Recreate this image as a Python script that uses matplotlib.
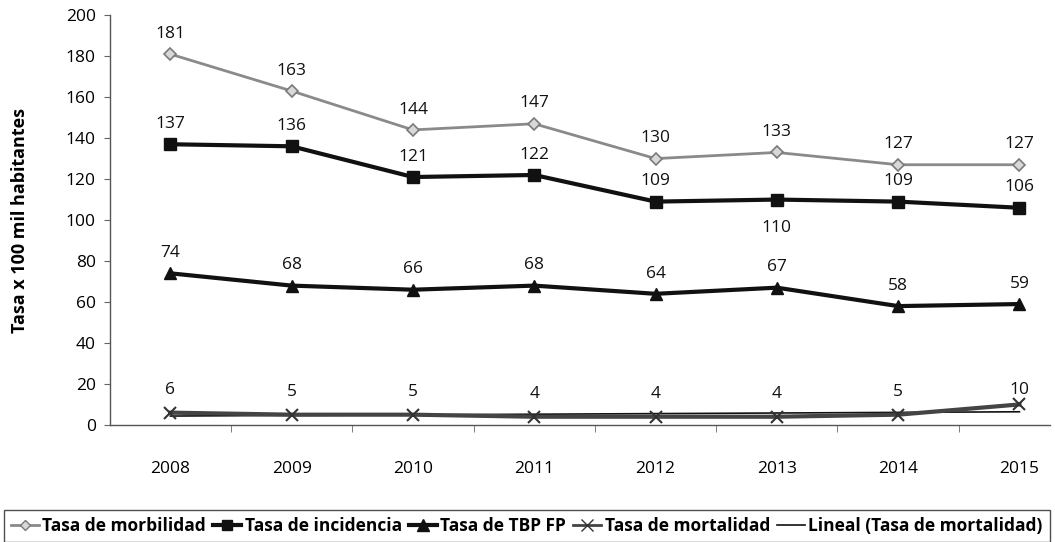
import numpy as np
import matplotlib
matplotlib.use("Agg")
import matplotlib.pyplot as plt
from matplotlib.lines import Line2D

years = ["2008", "2009", "2010", "2011", "2012", "2013", "2014", "2015"]
morbilidad = [181, 163, 144, 147, 130, 133, 127, 127]
incidencia = [137, 136, 121, 122, 109, 110, 109, 106]
tbp_fp = [74, 68, 66, 68, 64, 67, 58, 59]
mortalidad = [6, 5, 5, 4, 4, 4, 5, 10]

FONT = ["Liberation Sans Narrow", "Open Sans", "DejaVu Sans"]
TXT = ["Open Sans", "DejaVu Sans"]
plt.rcParams["font.family"] = FONT

fig = plt.figure(figsize=(10.55, 5.42), dpi=100)
ax = fig.add_axes([0.104, 0.216, 0.891, 0.756])
x = np.arange(len(years))

ax.plot(x, morbilidad, color="#8a8a8a", lw=2, marker="D", ms=6,
        mfc="#d8d8d8", mec="#7a7a7a", mew=1.2, zorder=3)
ax.plot(x, incidencia, color="#111111", lw=3, marker="s", ms=8,
        mfc="#111111", mec="#111111", zorder=3)
ax.plot(x, tbp_fp, color="#111111", lw=3, marker="^", ms=9,
        mfc="#111111", mec="#111111", zorder=3)
ax.plot(x, mortalidad, color="#444444", lw=3, marker="x", ms=9,
        mec="#333333", mew=1.5, zorder=3)

# linear trend of the mortality series
coef = np.polyfit(x, mortalidad, 1)
ax.plot(x, np.polyval(coef, x), color="#111111", lw=1.2, zorder=2)

label_kw = dict(ha="center", va="bottom", fontsize=12.5, color="#111111", family=TXT)
for i in range(len(years)):
    ax.text(x[i], morbilidad[i] + 6, str(morbilidad[i]), **label_kw)
    if i == 5:
        ax.text(x[i], incidencia[i] - 10, str(incidencia[i]),
                ha="center", va="top", fontsize=12.5, color="#111111", family=TXT)
    else:
        ax.text(x[i], incidencia[i] + 6, str(incidencia[i]), **label_kw)
    ax.text(x[i], tbp_fp[i] + 6, str(tbp_fp[i]), **label_kw)
    ax.text(x[i], mortalidad[i] + 7 if i < 7 else mortalidad[i] + 3,
            str(mortalidad[i]), **label_kw)

ax.set_xlim(-0.5, 7.25)
ax.set_ylim(0, 200)
ax.set_yticks(range(0, 201, 20))
ax.set_xticks(x)
ax.set_xticklabels(years)
ax.set_xticks(np.arange(0.5, 7, 1), minor=True)
ax.tick_params(axis="x", which="major", length=0, pad=26, labelsize=12.5)
ax.tick_params(axis="x", which="minor", length=5, direction="out", color="#666666")
ax.tick_params(axis="y", length=4, direction="out", color="#666666", labelsize=12.5, pad=6)
for lab in ax.get_xticklabels() + ax.get_yticklabels():
    lab.set_family(TXT)
for s in ["top", "right"]:
    ax.spines[s].set_visible(False)
for s in ["left", "bottom"]:
    ax.spines[s].set_color("#555555")
    ax.spines[s].set_linewidth(1)

ax.set_ylabel("Tasa x 100 mil habitantes", fontsize=13, fontweight="bold", family=TXT)
ax.yaxis.set_label_coords(-0.086, 0.5)

handles = [
    Line2D([], [], color="#8a8a8a", lw=2, marker="D", ms=5, mfc="#d8d8d8", mec="#7a7a7a"),
    Line2D([], [], color="#111111", lw=3, marker="s", ms=7),
    Line2D([], [], color="#111111", lw=3, marker="^", ms=8),
    Line2D([], [], color="#444444", lw=2, marker="x", ms=8, mec="#333333"),
    Line2D([], [], color="#111111", lw=1.2),
]
names = ["Tasa de morbilidad", "Tasa de incidencia", "Tasa de TBP FP",
         "Tasa de mortalidad", "Lineal (Tasa de mortalidad)"]
leg = fig.legend(handles, names, loc="lower left", bbox_to_anchor=(0.004, 0.0, 0.991, 0.07),
                 mode="expand", ncol=5, frameon=True, fancybox=False,
                 handlelength=1.6, handletextpad=0.2, columnspacing=0.8,
                 borderaxespad=0.0, prop={"family": FONT, "weight": "bold", "size": 12.5})
leg.get_frame().set_edgecolor("#222222")
leg.get_frame().set_linewidth(1)

fig.savefig("out.png", dpi=100)
